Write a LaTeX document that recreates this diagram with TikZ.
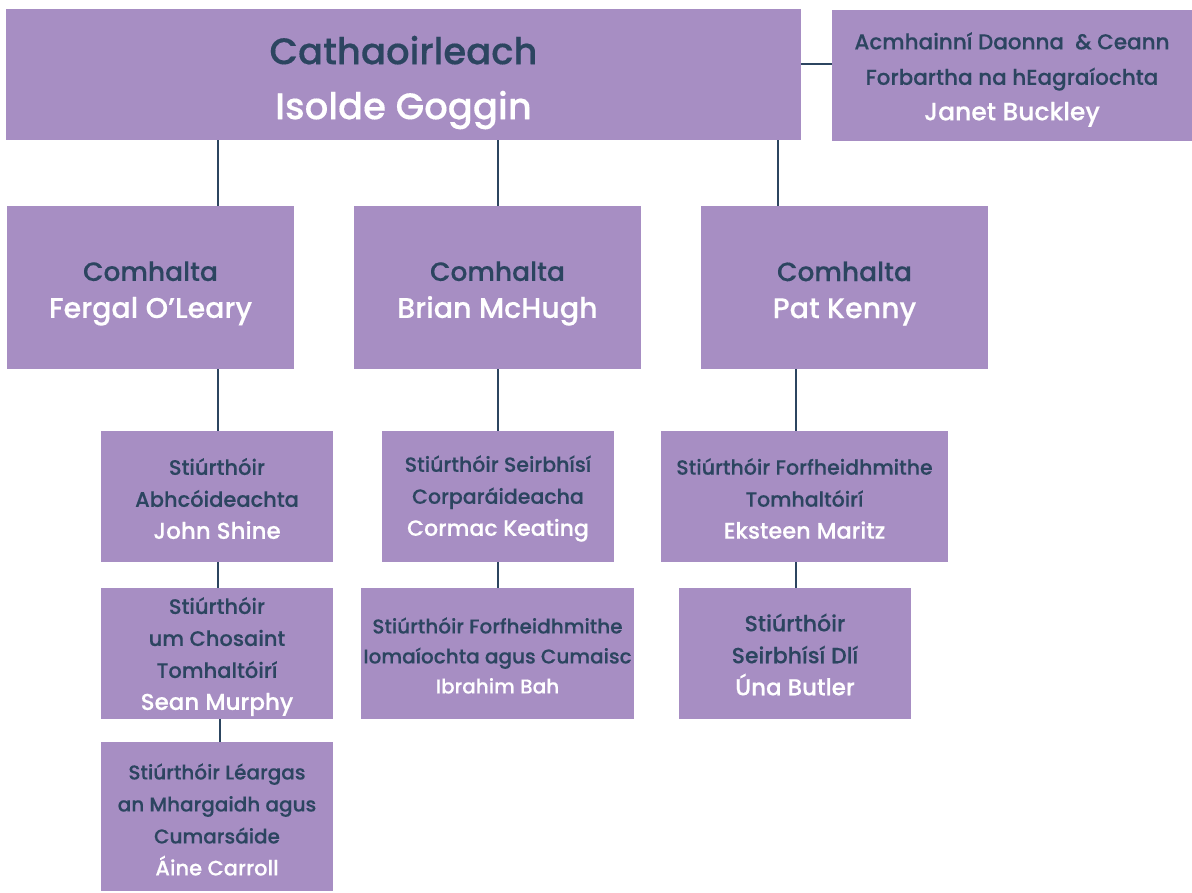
\documentclass[tikz,border=0pt]{standalone}
\usepackage{fontspec}
\IfFontExistsTF{Poppins Medium}{\setmainfont{Poppins Medium}[FakeBold=0.3]}{\setmainfont{Poppins}[FakeBold=0.8]}
\definecolor{boxpurple}{HTML}{A78EC3}
\definecolor{darktext}{HTML}{2C4560}
\definecolor{linecol}{HTML}{2C4560}
\tikzset{
  box/.style={fill=boxpurple, draw=none, inner sep=0pt},
  txt/.style={inner sep=0pt, align=center, text=darktext},
  conn/.style={draw=linecol, line width=1.1pt},
}
\newcommand{\nm}[1]{\textcolor{white}{#1}}
\newcommand{\fs}[2]{\fontsize{#1}{#2}\selectfont}
\begin{document}
\begin{tikzpicture}[x=1pt,y=-1pt]
\useasboundingbox (0,0) rectangle (1192,892);
% boxes
\node[box, minimum width=795pt, minimum height=131pt] (top) at (403.5,74.5) {};
\node[box, minimum width=360pt, minimum height=131pt] (hr) at (1012,75.5) {};
\node[box, minimum width=287pt, minimum height=163pt] (ca) at (150.5,287.5) {};
\node[box, minimum width=287pt, minimum height=163pt] (cb) at (497.5,287.5) {};
\node[box, minimum width=287pt, minimum height=163pt] (cc) at (844.5,287.5) {};
\node[box, minimum width=232pt, minimum height=131pt] (da) at (217,496.5) {};
\node[box, minimum width=232pt, minimum height=131pt] (db) at (498,496.5) {};
\node[box, minimum width=287pt, minimum height=131pt] (dc) at (804.5,496.5) {};
\node[box, minimum width=232pt, minimum height=131pt] (ea) at (217,653.5) {};
\node[box, minimum width=273pt, minimum height=131pt] (eb) at (497.5,653.5) {};
\node[box, minimum width=232pt, minimum height=131pt] (ec) at (795,653.5) {};
\node[box, minimum width=232pt, minimum height=149pt] (fa) at (217,816.5) {};
% texts
\node[txt, font=\fs{37}{55}] (topt) at ([yshift=-8pt]top.center) {Cathaoirleach\\\nm{Isolde Goggin}};
\node[txt, font=\fs{21.5}{35.5}] (hrt) at ([yshift=-4pt]hr.center) {Acmhainní Daonna \ \& Ceann\\Forbartha na hEagraíochta\\\nm{\fs{25}{35.5}Janet Buckley}};
\node[txt, font=\fs{26.5}{37}] (cat) at ([yshift=-6pt]ca.center) {Comhalta\\\nm{\fs{28.5}{37}Fergal O’Leary}};
\node[txt, font=\fs{26.5}{37}] (cbt) at ([yshift=-6pt]cb.center) {Comhalta\\\nm{\fs{28.5}{37}Brian McHugh}};
\node[txt, font=\fs{26.5}{37}] (cct) at ([yshift=-6pt]cc.center) {Comhalta\\\nm{\fs{28.5}{37}Pat Kenny}};
\node[txt, font=\fs{21}{32}] (dat) at ([yshift=-2pt]da.center) {Stiúrthóir\\Abhcóideachta\\\nm{\fs{23}{32}John Shine}};
\node[txt, font=\fs{20.5}{32}] (dbt) at ([yshift=-2pt]db.center) {Stiúrthóir Seirbhísí\\Corparáideacha\\\nm{\fs{22}{32}Cormac Keating}};
\node[txt, font=\fs{20.5}{32}] (dct) at ([yshift=-2pt]dc.center) {Stiúrthóir Forfheidhmithe\\Tomhaltóirí\\\nm{\fs{22.5}{32}Eksteen Maritz}};
\node[txt, font=\fs{21}{32}] (eat) at ([yshift=-3pt]ea.center) {Stiúrthóir\\um Chosaint\\Tomhaltóirí\\\nm{\fs{23}{32}Sean Murphy}};
\node[txt, font=\fs{20}{30}] (ebt) at ([yshift=-2pt]eb.center) {Stiúrthóir Forfheidhmithe\\Iomaíochta agus Cumaisc\\\nm{\fs{20}{30}Ibrahim Bah}};
\node[txt, font=\fs{22}{32}] (ect) at ([yshift=-1pt]ec.center) {Stiúrthóir\\Seirbhísí Dlí\\\nm{\fs{23}{32}Úna Butler}};
\node[txt, font=\fs{20}{32}] (fat) at ([yshift=-3pt]fa.center) {Stiúrthóir Léargas\\an Mhargaidh agus\\Cumarsáide\\\nm{\fs{21}{32}Áine Carroll}};
% connectors
\draw[conn] (top.east |- 0,64) -- (hr.west |- 0,64);
\draw[conn] (top.south -| 218,0) -- (ca.north -| 218,0);
\draw[conn] (top.south -| 498,0) -- (cb.north -| 498,0);
\draw[conn] (top.south -| 778,0) -- (cc.north -| 778,0);
\draw[conn] (ca.south -| 218,0) -- (da.north -| 218,0);
\draw[conn] (cb.south -| 498,0) -- (db.north -| 498,0);
\draw[conn] (cc.south -| 796,0) -- (dc.north -| 796,0);
\draw[conn] (da.south -| 218,0) -- (ea.north -| 218,0);
\draw[conn] (db.south -| 498,0) -- (eb.north -| 498,0);
\draw[conn] (dc.south -| 796,0) -- (ec.north -| 796,0);
\draw[conn] (ea.south -| 220,0) -- (fa.north -| 220,0);
\end{tikzpicture}
\end{document}
